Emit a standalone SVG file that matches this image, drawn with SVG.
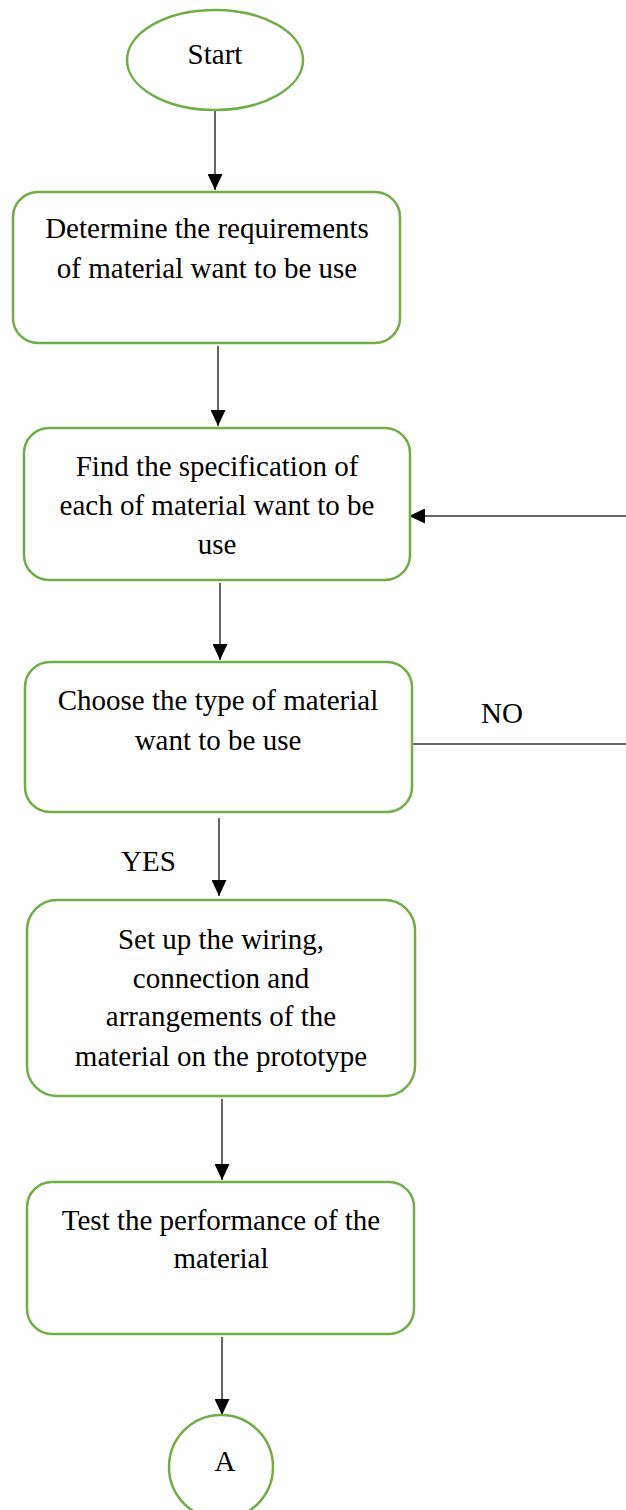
<svg xmlns="http://www.w3.org/2000/svg" width="626" height="1510" viewBox="0 0 626 1510">
<defs>
<style>
.node{fill:#fff;stroke:#70AD47;stroke-width:2.5}
.t{font-family:"Liberation Serif","Times New Roman",serif;font-size:29px;fill:#000;text-anchor:middle}
.lbl{font-family:"Liberation Serif","Times New Roman",serif;font-size:29px;fill:#000}
.c{stroke:#333;stroke-width:1.5;fill:none}
</style>
<marker id="ah" viewBox="0 0 16 15" refX="16" refY="7.5" markerWidth="16" markerHeight="15" markerUnits="userSpaceOnUse" orient="auto">
<path d="M0,0 L16,7.5 L0,15 Z" fill="#000"/>
</marker>
</defs>
<rect width="626" height="1510" fill="#fff"/>
<g id="connectors">
<line class="c" x1="215" y1="111" x2="215" y2="190" marker-end="url(#ah)"/>
<line class="c" x1="218" y1="346" x2="218" y2="426" marker-end="url(#ah)"/>
<line class="c" x1="626" y1="516" x2="409" y2="516" marker-end="url(#ah)"/>
<line class="c" x1="220" y1="583" x2="220" y2="660" marker-end="url(#ah)"/>
<line class="c" x1="413" y1="744" x2="626" y2="744"/>
<line class="c" x1="219" y1="818" x2="219" y2="896" marker-end="url(#ah)"/>
<line class="c" x1="222" y1="1099" x2="222" y2="1180" marker-end="url(#ah)"/>
<line class="c" x1="222" y1="1337" x2="222" y2="1415" marker-end="url(#ah)"/>
<text class="lbl" x="481" y="723">NO</text>
<text class="lbl" x="121" y="871">YES</text>
</g>
<g id="start">
<ellipse class="node" cx="215" cy="60" rx="88" ry="50"/>
<text class="t" x="215" y="64">Start</text>
</g>
<g id="n1">
<rect class="node" x="13" y="192" width="387" height="151" rx="25"/>
<text class="t" x="207" y="238">Determine the requirements</text>
<text class="t" x="207" y="278">of material want to be use</text>
</g>
<g id="n2">
<rect class="node" x="24" y="428" width="386" height="152" rx="25"/>
<text class="t" x="217" y="476">Find the specification of</text>
<text class="t" x="217" y="515">each of material want to be</text>
<text class="t" x="217" y="554">use</text>
</g>
<g id="n3">
<rect class="node" x="25" y="662" width="387" height="150" rx="25"/>
<text class="t" x="218" y="710">Choose the type of material</text>
<text class="t" x="218" y="750">want to be use</text>
</g>
<g id="n4">
<rect class="node" x="27" y="900" width="388" height="196" rx="30"/>
<text class="t" x="221" y="949">Set up the wiring,</text>
<text class="t" x="221" y="988">connection and</text>
<text class="t" x="221" y="1026">arrangements of the</text>
<text class="t" x="221" y="1066">material on the prototype</text>
</g>
<g id="n5">
<rect class="node" x="27" y="1182" width="387" height="152" rx="25"/>
<text class="t" x="221" y="1230">Test the performance of the</text>
<text class="t" x="221" y="1268">material</text>
</g>
<g id="a">
<circle class="node" cx="221" cy="1467" r="52"/>
<text class="t" x="225" y="1471">A</text>
</g>
</svg>
